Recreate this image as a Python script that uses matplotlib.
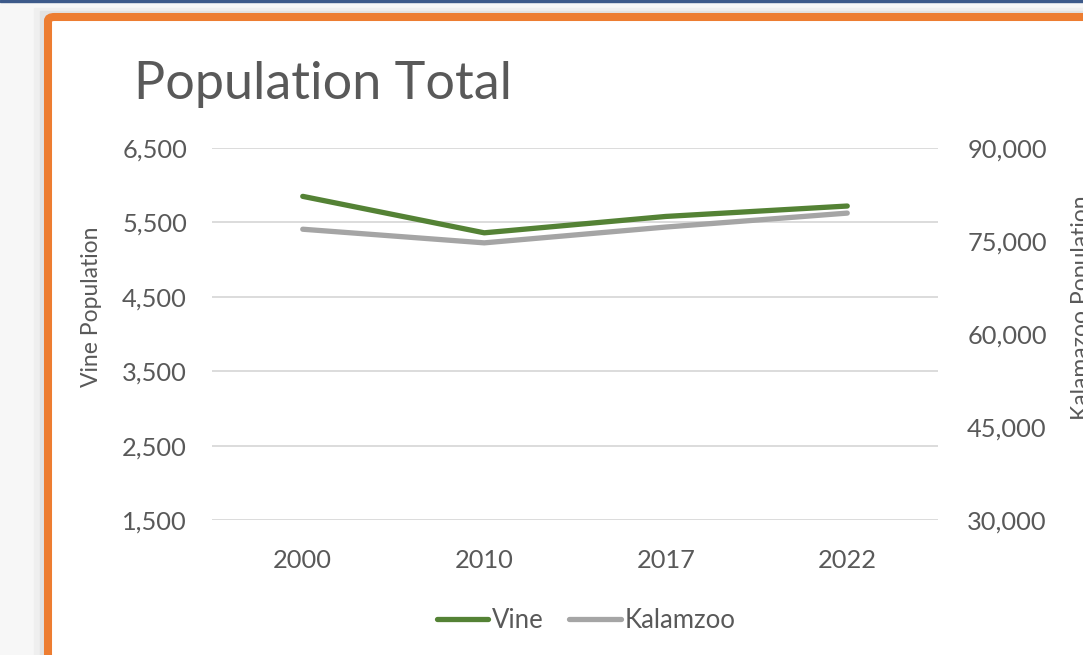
import matplotlib.pyplot as plt
from matplotlib.patches import Rectangle, FancyBboxPatch
from matplotlib.ticker import StrMethodFormatter

years = ['2000', '2010', '2017', '2022']
vine = [5850, 5360, 5580, 5720]
kalamazoo = [76900, 74700, 77250, 79500]
vine_ticks = [1500, 2500, 3500, 4500, 5500, 6500]
kzoo_ticks = [30000, 45000, 60000, 75000, 90000]

plt.rcParams['font.family'] = ['Lato', 'DejaVu Sans']
text_color = '#595959'
green = '#548235'
grey = '#a5a5a5'

W, H = 1083, 655
fig = plt.figure(figsize=(W / 100, H / 100), dpi=100, facecolor='#f7f7f7')


def fx(x):
    return x / W


def fy(y):
    return 1 - y / H


# screenshot background: top bar + soft shadow left of the chart frame
fig.patches.append(Rectangle((0, fy(2)), 1, 2 / H, transform=fig.transFigure,
                             color='#3d5a8a', zorder=-3))
fig.patches.append(Rectangle((fx(34), -0.1), 1, fy(8) + 0.1, transform=fig.transFigure,
                             color='#efefef', zorder=-3))
fig.patches.append(Rectangle((fx(40), -0.1), 1, fy(11) + 0.1, transform=fig.transFigure,
                             color='#e2e2e2', zorder=-3))
# chart frame with the orange border (runs off the right and bottom edges)
frame = FancyBboxPatch((fx(48), -0.1), 1.1, fy(17) + 0.1,
                       boxstyle='round,pad=0,rounding_size=0.006',
                       transform=fig.transFigure, facecolor='white',
                       edgecolor='#ed7d31', linewidth=5.8, zorder=-2)
fig.patches.append(frame)

ax = fig.add_axes([fx(212), fy(520), (938 - 212) / W, (520 - 148) / H])
ax.patch.set_alpha(0)
ax2 = ax.twinx()

x = range(len(years))
l1, = ax.plot(x, vine, color=green, lw=3.8, solid_capstyle='round', zorder=3, label='Vine')
l2, = ax2.plot(x, kalamazoo, color=grey, lw=3.8, solid_capstyle='round', zorder=2, label='Kalamzoo')

ax.set_xlim(-0.5, len(years) - 0.5)
ax.set_ylim(vine_ticks[0], vine_ticks[-1])
ax.set_yticks(vine_ticks)
ax2.set_ylim(kzoo_ticks[0], kzoo_ticks[-1])
ax2.set_yticks(kzoo_ticks)
ax.set_xticks(list(x))
ax.set_xticklabels(years)

fmt = StrMethodFormatter('{x:,.0f}')
ax.yaxis.set_major_formatter(fmt)
ax2.yaxis.set_major_formatter(fmt)

ax.grid(axis='y', color='#d9d9d9', lw=1.3)
ax.set_axisbelow(True)
for a in (ax, ax2):
    for s in a.spines.values():
        s.set_visible(False)
ax.tick_params(axis='y', length=0, pad=18, labelsize=18.3, labelcolor=text_color)
ax.tick_params(axis='x', length=0, pad=21, labelsize=18.3, labelcolor=text_color)
ax2.tick_params(axis='y', length=0, pad=21, labelsize=18.3, labelcolor=text_color)

fig.text(fx(134), fy(99), 'Population Total', fontsize=37.5, color=text_color,
         va='baseline', ha='left')
fig.text(fx(92), fy(307), 'Vine Population', rotation=90, fontsize=16.5,
         color=text_color, ha='center', va='center')
fig.text(fx(1081), fy(308), 'Kalamazoo Population', rotation=90, fontsize=16.5,
         color=text_color, ha='center', va='center')

fig.legend(handles=[l1, l2], loc='center', bbox_to_anchor=(fx(586), fy(620)),
           ncol=2, frameon=False, fontsize=18.5, labelcolor=text_color,
           handlelength=2.0, handletextpad=0.15, columnspacing=1.0)

fig.savefig('out.png', dpi=100, facecolor=fig.get_facecolor())
